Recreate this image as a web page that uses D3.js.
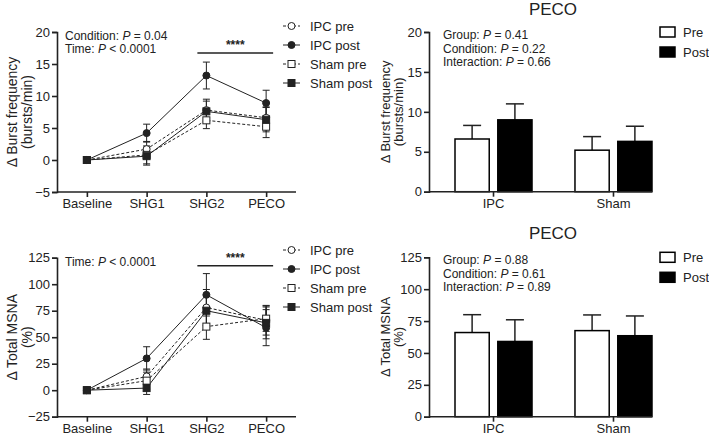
<!DOCTYPE html>
<html>
<head>
<meta charset="utf-8">
<script src="https://cdn.jsdelivr.net/npm/d3@7"></script>
<style>
  body { margin: 0; background: #fff; }
  text { font-family: "Liberation Sans", Arial, sans-serif; fill: #222; }
</style>
</head>
<body>
<svg id="chart" width="709" height="434"></svg>
<script>
// categories
var timepoints = ["Baseline", "SHG1", "SHG2", "PECO"];
var seriesNames = ["IPC pre", "IPC post", "Sham pre", "Sham post"];
var groups = ["IPC", "Sham"];
var conditions = ["Pre", "Post"];

// burst frequency, line panel (mean, sem)
var burstIpcPre = [0, 1.7, 7.8, 6.6];
var burstIpcPreErr = [0, 1.2, 1.7, 1.7];
var burstIpcPost = [0, 4.2, 13.2, 8.9];
var burstIpcPostErr = [0, 1.4, 2.1, 2.0];
var burstShamPre = [0, 0.8, 6.2, 5.2];
var burstShamPreErr = [0, 1.4, 1.3, 1.7];
var burstShamPost = [0, 0.6, 7.6, 6.3];
var burstShamPostErr = [0, 1.4, 1.6, 1.9];

// total MSNA, line panel
var msnaIpcPre = [0, 13, 78, 66];
var msnaIpcPreErr = [0, 7, 17, 14];
var msnaIpcPost = [0, 30, 90, 59];
var msnaIpcPostErr = [0, 11, 20, 17];
var msnaShamPre = [0, 9, 60, 67.5];
var msnaShamPreErr = [0, 8, 12, 12];
var msnaShamPost = [0, 2, 75, 63.5];
var msnaShamPostErr = [0, 6, 14, 15];

// PECO bars (IPC, Sham)
var burstPecoPre = [6.6, 5.2];
var burstPecoPreErr = [1.7, 1.7];
var burstPecoPost = [9.0, 6.3];
var burstPecoPostErr = [2.0, 1.9];
var msnaPecoPre = [66, 67.5];
var msnaPecoPreErr = [14, 12.3];
var msnaPecoPost = [59, 63.5];
var msnaPecoPostErr = [17, 15.5];

var burstTicks = [-5, 0, 5, 10, 15, 20];
var msnaTicks = [-25, 0, 25, 50, 75, 100, 125];
var burstBarTicks = [0, 5, 10, 15, 20];
var msnaBarTicks = [0, 25, 50, 75, 100, 125];

var svg = d3.select("#chart");
var ink = "#222";

// marker style per series: open/filled, circle/square, dashed/solid
var styles = [
  { shape: "circle", fill: "#fff", dash: "3,2" },
  { shape: "circle", fill: ink, dash: null },
  { shape: "square", fill: "#fff", dash: "3,2" },
  { shape: "square", fill: ink, dash: null }
];

function marker(g, shape, fill, x, y) {
  if (shape == "circle") {
    g.append("circle").attr("cx", x).attr("cy", y).attr("r", 3.5)
      .attr("fill", fill).attr("stroke", ink).attr("stroke-width", 1);
  } else {
    g.append("rect").attr("x", x - 3.5).attr("y", y - 3.5)
      .attr("width", 7).attr("height", 7)
      .attr("fill", fill).attr("stroke", ink).attr("stroke-width", 1);
  }
}

function yAxis(g, y, ticks, x0) {
  var ax = g.append("g").attr("transform", "translate(" + x0 + ",0)")
    .call(d3.axisLeft(y).tickValues(ticks).tickSize(5).tickPadding(2)
      .tickFormat(function (d) { return d < 0 ? "\u2212" + (-d) : d; }));
  ax.selectAll("path, line").attr("stroke", ink).attr("stroke-width", 1.6);
  ax.selectAll("text").attr("font-size", 13).style("fill", ink)
    .attr("font-family", "Liberation Sans, Arial, sans-serif");
  return ax;
}

function yLabel(g, lines, cx, cy, dx, size) {
  lines.forEach(function (t, i) {
    g.append("text")
      .attr("transform", "translate(" + (cx + i * dx) + "," + cy + ") rotate(-90)")
      .attr("text-anchor", "middle").attr("dy", "0.35em")
      .attr("font-size", size).text(t);
  });
}

function statText(g, x, y, parts) {
  // parts: [label, sign, value]
  var t = g.append("text").attr("x", x).attr("y", y).attr("font-size", 12);
  t.append("tspan").text(parts[0]);
  t.append("tspan").attr("font-style", "italic").text("P");
  t.append("tspan").text(parts[1] + parts[2]);
}

function linePanel(opt) {
  var g = svg.append("g");
  var x = d3.scalePoint().domain(timepoints).range([opt.left, opt.right]).padding(0.5);
  var y = d3.scaleLinear().domain(opt.domain).range([opt.bottom, opt.top]);

  yAxis(g, y, opt.ticks, opt.left);
  var xa = g.append("g").attr("transform", "translate(0," + opt.bottom + ")")
    .call(d3.axisBottom(x).tickSize(5).tickPadding(2).tickSizeOuter(0));
  xa.select("path").attr("d", "M" + opt.left + ",0H" + opt.right);
  xa.selectAll("path, line").attr("stroke", ink).attr("stroke-width", 1.6);
  xa.selectAll("text").attr("font-size", 13).style("fill", ink)
    .attr("font-family", "Liberation Sans, Arial, sans-serif");

  var line = d3.line().x(function (d, i) { return x(timepoints[i]); }).y(function (d) { return y(d); });

  // lines
  opt.means.forEach(function (m, s) {
    g.append("path").attr("d", line(m)).attr("fill", "none")
      .attr("stroke", ink).attr("stroke-width", 1)
      .attr("stroke-dasharray", styles[s].dash);
  });
  // error bars
  opt.means.forEach(function (m, s) {
    m.forEach(function (v, i) {
      var e = opt.errs[s][i];
      if (!e) return;
      var cx = x(timepoints[i]);
      g.append("line").attr("x1", cx).attr("x2", cx).attr("y1", y(v - e)).attr("y2", y(v + e))
        .attr("stroke", ink).attr("stroke-width", 1);
      [v - e, v + e].forEach(function (c) {
        g.append("line").attr("x1", cx - 3.5).attr("x2", cx + 3.5).attr("y1", y(c)).attr("y2", y(c))
          .attr("stroke", ink).attr("stroke-width", 1);
      });
    });
  });
  // markers
  opt.means.forEach(function (m, s) {
    m.forEach(function (v, i) {
      marker(g, styles[s].shape, styles[s].fill, x(timepoints[i]), y(v));
    });
  });

  // significance bar
  g.append("line").attr("x1", x("SHG2") - 9).attr("x2", x("PECO") + 7)
    .attr("y1", opt.sigY).attr("y2", opt.sigY).attr("stroke", ink).attr("stroke-width", 1.6);
  g.append("text").attr("x", (x("SHG2") + x("PECO")) / 2 - 1).attr("y", opt.sigY - 4)
    .attr("text-anchor", "middle").attr("font-size", 12).attr("font-weight", "bold").text("****");

  opt.stats.forEach(function (p, i) { statText(g, opt.left + 8, opt.top + 8 + i * 12.5, p); });

  // legend
  seriesNames.forEach(function (n, s) {
    var ly = opt.legendY + s * 19;
    g.append("line").attr("x1", 283).attr("x2", 300).attr("y1", ly).attr("y2", ly)
      .attr("stroke", ink).attr("stroke-width", 1).attr("stroke-dasharray", styles[s].dash);
    marker(g, styles[s].shape, styles[s].fill, 291.5, ly);
    g.append("text").attr("x", 310).attr("y", ly).attr("dy", "0.35em")
      .attr("font-size", 13).text(n);
  });

  yLabel(g, opt.label, 12, (opt.top + opt.bottom) / 2, 15, 14);
}

function barPanel(opt) {
  var g = svg.append("g");
  var x0 = d3.scaleBand().domain(groups).range([455, 652]).paddingInner(0.358).paddingOuter(0);
  var x1 = d3.scaleBand().domain(conditions).range([0, x0.bandwidth()]).paddingInner(0.2);
  var y = d3.scaleLinear().domain(opt.domain).range([opt.bottom, opt.top]);

  yAxis(g, y, opt.ticks, opt.left);

  var vals = [opt.pre, opt.post];
  var errs = [opt.preErr, opt.postErr];
  conditions.forEach(function (c, k) {
    groups.forEach(function (gr, i) {
      var bx = x0(gr) + x1(c);
      var cx = bx + x1.bandwidth() / 2;
      var top = y(vals[k][i] + errs[k][i]);
      g.append("line").attr("x1", cx).attr("x2", cx).attr("y1", y(vals[k][i])).attr("y2", top)
        .attr("stroke", ink).attr("stroke-width", 1.5);
      g.append("line").attr("x1", cx - 9).attr("x2", cx + 9).attr("y1", top).attr("y2", top)
        .attr("stroke", ink).attr("stroke-width", 1.5);
      g.append("rect").attr("x", bx).attr("y", y(vals[k][i]))
        .attr("width", x1.bandwidth()).attr("height", y(0) - y(vals[k][i]))
        .attr("fill", k == 0 ? "#fff" : "#000").attr("stroke", "#000").attr("stroke-width", 1.5);
    });
  });

  var xa = g.append("g").attr("transform", "translate(0," + opt.bottom + ")")
    .call(d3.axisBottom(x0).tickSize(5).tickPadding(2).tickSizeOuter(0));
  xa.select("path").attr("d", "M" + opt.left + ",0H652");
  xa.selectAll("path, line").attr("stroke", ink).attr("stroke-width", 1.6);
  xa.selectAll("text").attr("font-size", 13).style("fill", ink)
    .attr("font-family", "Liberation Sans, Arial, sans-serif");

  g.append("text").attr("x", 553).attr("y", opt.titleY).attr("text-anchor", "middle")
    .attr("font-size", 17).text("PECO");

  opt.stats.forEach(function (p, i) { statText(g, 443, opt.top + 7 + i * 13.5, p); });

  conditions.forEach(function (c, k) {
    var ly = opt.legendY + k * 20;
    g.append("rect").attr("x", 660).attr("y", ly - 5).attr("width", 15).attr("height", 10)
      .attr("fill", k == 0 ? "#fff" : "#000").attr("stroke", "#000").attr("stroke-width", 1.5);
    g.append("text").attr("x", 683).attr("y", ly).attr("dy", "0.35em")
      .attr("font-size", 13).text(c);
  });

  yLabel(g, opt.label, 385, (opt.top + opt.bottom) / 2, 13.5, 13);
}

linePanel({
  left: 57, right: 296, top: 32, bottom: 192, domain: [-5, 20], ticks: burstTicks,
  means: [burstIpcPre, burstIpcPost, burstShamPre, burstShamPost],
  errs: [burstIpcPreErr, burstIpcPostErr, burstShamPreErr, burstShamPostErr],
  sigY: 53, legendY: 26,
  stats: [["Condition: ", " = ", "0.04"], ["Time: ", " < ", "0.0001"]],
  label: ["\u0394 Burst frequency", "(bursts/min)"]
});

linePanel({
  left: 57, right: 296, top: 257.7, bottom: 416.7, domain: [-25, 125], ticks: msnaTicks,
  means: [msnaIpcPre, msnaIpcPost, msnaShamPre, msnaShamPost],
  errs: [msnaIpcPreErr, msnaIpcPostErr, msnaShamPreErr, msnaShamPostErr],
  sigY: 265.7, legendY: 250,
  stats: [["Time: ", " < ", "0.0001"]],
  label: ["\u0394 Total MSNA", "(%)"]
});

barPanel({
  left: 429, top: 32, bottom: 191.7, domain: [0, 20], ticks: burstBarTicks,
  pre: burstPecoPre, preErr: burstPecoPreErr, post: burstPecoPost, postErr: burstPecoPostErr,
  titleY: 15, legendY: 32,
  stats: [["Group: ", " = ", "0.41"], ["Condition: ", " = ", "0.22"], ["Interaction: ", " = ", "0.66"]],
  label: ["\u0394 Burst frequency", "(bursts/min)"]
});

barPanel({
  left: 429, top: 257.3, bottom: 416.7, domain: [0, 125], ticks: msnaBarTicks,
  pre: msnaPecoPre, preErr: msnaPecoPreErr, post: msnaPecoPost, postErr: msnaPecoPostErr,
  titleY: 239, legendY: 257.3,
  stats: [["Group: ", " = ", "0.88"], ["Condition: ", " = ", "0.61"], ["Interaction: ", " = ", "0.89"]],
  label: ["\u0394 Total MSNA", "(%)"]
});
</script>
</body>
</html>
